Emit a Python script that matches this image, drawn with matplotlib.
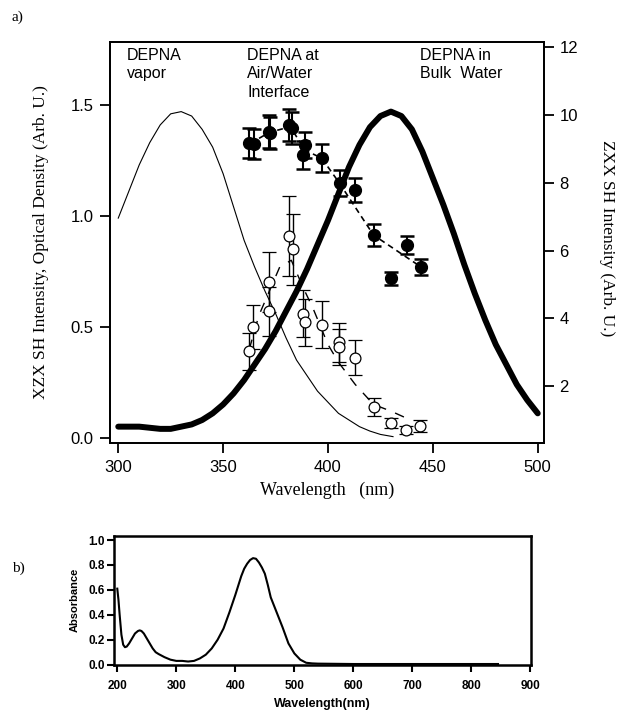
import matplotlib

matplotlib.use("Agg")
import matplotlib.pyplot as plt

SANS = ["Liberation Sans", "DejaVu Sans"]
SERIF = ["Liberation Serif", "DejaVu Serif"]

# --- panel a: optical density curves (left axis) ---
vapor_nm = [300, 305, 310, 315, 320, 325, 330, 335, 340, 345, 350, 355, 360, 365, 370,
            375, 380, 385, 390, 395, 400, 405, 410, 415, 420, 425, 431]
vapor_od = [0.99, 1.11, 1.23, 1.33, 1.41, 1.46, 1.47, 1.45, 1.39, 1.31, 1.19, 1.04, 0.89,
            0.77, 0.66, 0.56, 0.45, 0.35, 0.28, 0.21, 0.16, 0.11, 0.08, 0.05, 0.03, 0.015,
            0.005]

bulk_nm = [300, 305, 310, 315, 320, 325, 330, 335, 340, 345, 350, 355, 360, 365, 370,
           375, 380, 385, 390, 395, 400, 405, 410, 415, 420, 425, 430, 435, 440, 445,
           450, 455, 460, 465, 470, 475, 480, 485, 490, 495, 500]
bulk_od = [0.05, 0.05, 0.05, 0.045, 0.04, 0.04, 0.05, 0.06, 0.08, 0.11, 0.15, 0.20, 0.26,
           0.33, 0.40, 0.48, 0.57, 0.66, 0.76, 0.87, 0.98, 1.10, 1.22, 1.32, 1.40, 1.45,
           1.47, 1.45, 1.39, 1.29, 1.17, 1.05, 0.92, 0.78, 0.65, 0.53, 0.42, 0.33, 0.24,
           0.17, 0.11]

# --- XZX SH (open circles, left axis) ---
xzx_nm = [362.5, 364.3, 371.7, 371.7, 381.2, 383.1, 387.9, 388.9, 397.1, 405.1, 405.1,
          412.7, 421.7, 430.0, 437.1, 444.0]
xzx_val = [0.39, 0.50, 0.70, 0.57, 0.91, 0.85, 0.56, 0.52, 0.51, 0.43, 0.41,
           0.36, 0.14, 0.066, 0.036, 0.051]
xzx_err = [0.083, 0.098, 0.135, 0.11, 0.18, 0.16, 0.105, 0.105, 0.105, 0.089, 0.08,
           0.079, 0.04, 0.023, 0.018, 0.027]
xzx_fit_nm = [362.5, 367, 372, 377, 382.5, 388, 393, 400, 405, 413, 421.7, 430, 437]
xzx_fit_val = [0.40, 0.55, 0.66, 0.77, 0.80, 0.68, 0.58, 0.42, 0.34, 0.24, 0.15, 0.12, 0.09]

# --- ZXX SH (filled circles, right axis) ---
zxx_nm = [362.5, 364.5, 371.7, 372.2, 381.2, 382.9, 389.2, 388.1, 397.1, 405.5, 413.0,
          421.7, 430.0, 437.6, 444.3]
zxx_val = [9.19, 9.16, 9.51, 9.47, 9.71, 9.61, 9.12, 8.82, 8.73, 7.99, 7.79,
           6.46, 5.18, 6.17, 5.52]
zxx_err = [0.44, 0.44, 0.49, 0.47, 0.47, 0.47, 0.38, 0.41, 0.42, 0.38, 0.35,
           0.32, 0.20, 0.27, 0.24]
zxx_fit_nm = [363, 372, 382, 389, 397, 405.5, 421.7, 444.3]
zxx_fit_val = [9.17, 9.49, 9.66, 8.97, 8.73, 7.99, 6.46, 5.52]

# --- panel b: absorbance spectrum ---
abs_nm = [200, 202, 204, 207, 210, 213, 216, 220, 225, 230, 235, 238, 241, 245, 250, 255,
          260, 265, 270, 280, 290, 300, 310, 320, 330, 340, 350, 360, 370, 380, 390, 400,
          410, 415, 420, 425, 430, 435, 440, 445, 450, 455, 460, 470, 480, 490, 500, 510,
          520, 530, 540, 600, 700, 800, 845]
abs_val = [0.61, 0.52, 0.40, 0.24, 0.16, 0.14, 0.145, 0.17, 0.21, 0.25, 0.27, 0.275, 0.27,
           0.25, 0.21, 0.17, 0.13, 0.10, 0.085, 0.06, 0.04, 0.03, 0.03, 0.025, 0.03, 0.05,
           0.08, 0.13, 0.20, 0.29, 0.42, 0.56, 0.71, 0.77, 0.81, 0.84, 0.855, 0.85, 0.82,
           0.78, 0.73, 0.64, 0.54, 0.42, 0.30, 0.17, 0.09, 0.04, 0.015, 0.01, 0.008,
           0.005, 0.005, 0.005, 0.005]

fig = plt.figure(figsize=(6.18, 7.12), dpi=100)

# ---------------- panel a ----------------
ax = fig.add_axes([0.1788, 0.3774, 0.7015, 0.5640])
ax2 = ax.twinx()

ax.plot(vapor_nm, vapor_od, color="black", lw=0.8)
ax.plot(bulk_nm, bulk_od, color="black", lw=4.3, solid_capstyle="round",
        solid_joinstyle="round")

ax.plot(xzx_fit_nm, xzx_fit_val, color="black", lw=1.0, dashes=(7, 7))
ax.errorbar(xzx_nm, xzx_val, yerr=xzx_err, fmt="o", mfc="white", mec="black", mew=0.9,
            ms=7.8, ecolor="black", elinewidth=1.0, capsize=5, capthick=1.5)

ax2.plot(zxx_fit_nm, zxx_fit_val, color="black", lw=1.2, dashes=(3.5, 2.5))
ax2.errorbar(zxx_nm, zxx_val, yerr=zxx_err, fmt="o", mfc="black", mec="black",
             ms=8.5, ecolor="black", elinewidth=1.5, capsize=5, capthick=1.8)

ax.set_xlim(296.3, 503)
ax.set_ylim(-0.025, 1.785)
ax2.set_ylim(0.31, 12.17)
ax.set_xticks([300, 350, 400, 450, 500])
ax.set_yticks([0.0, 0.5, 1.0, 1.5])
ax2.set_yticks([2, 4, 6, 8, 10, 12])

for a in (ax, ax2):
    for s in a.spines.values():
        s.set_linewidth(1.3)
ax.tick_params(direction="out", length=7, width=1.3, labelsize=12, pad=5)
ax2.tick_params(direction="out", length=7, width=1.3, labelsize=12, pad=4)
for lab in ax.get_xticklabels() + ax.get_yticklabels() + ax2.get_yticklabels():
    lab.set_family(SANS)

ax.text(0.038, 0.985, "DEPNA\nvapor", transform=ax.transAxes, va="top", ha="left",
        fontsize=11.5, family=SANS, linespacing=1.3)
ax.text(0.315, 0.985, "DEPNA at\nAir/Water\nInterface", transform=ax.transAxes,
        va="top", ha="left", fontsize=11.5, family=SANS, linespacing=1.3)
ax.text(0.715, 0.985, "DEPNA in\nBulk  Water", transform=ax.transAxes, va="top",
        ha="left", fontsize=11.5, family=SANS, linespacing=1.3)

fig.text(41 / 618, 1 - 242 / 712, "XZX SH Intensity, Optical Density (Arb. U.)",
         rotation=90, ha="center", va="center", fontsize=12.5, family=SERIF)
fig.text(607 / 618, 1 - 238 / 712, "ZXX SH Intensity (Arb. U.)",
         rotation=270, ha="center", va="center", fontsize=12.5, family=SERIF)
fig.text(327 / 618, 1 - 490 / 712, "Wavelength   (nm)", ha="center", va="center",
         fontsize=13, family=SERIF)
fig.text(12 / 618, 1 - 17 / 712, "a)", ha="left", va="center", fontsize=11, family=SERIF)

# ---------------- panel b ----------------
bx = fig.add_axes([0.1850, 0.0660, 0.6743, 0.1816])
bx.plot(abs_nm, abs_val, color="black", lw=1.5)
bx.set_xlim(195, 901)
bx.set_ylim(-0.003, 1.035)
bx.set_xticks([200, 300, 400, 500, 600, 700, 800, 900])
bx.set_yticks([0.0, 0.2, 0.4, 0.6, 0.8, 1.0])
bx.set_yticklabels(["0.0", "0.2", "0.4", "0.6", "0.8", "1.0"])
for s in bx.spines.values():
    s.set_linewidth(1.8)
bx.tick_params(axis="x", direction="out", length=5, width=1.5, labelsize=8.5, pad=6)
bx.tick_params(axis="y", direction="out", length=5, width=1.5, labelsize=8.5, pad=2)
for lab in bx.get_xticklabels() + bx.get_yticklabels():
    lab.set_family(SANS)
    lab.set_fontweight("bold")
bx.set_ylabel("Absorbance", fontsize=8, family=SANS, fontweight="bold", labelpad=6)
bx.set_xlabel("Wavelength(nm)", fontsize=9, family=SANS, fontweight="bold", labelpad=4)
fig.text(12 / 618, 1 - 568 / 712, "b)", ha="left", va="center", fontsize=11, family=SERIF)

fig.savefig("out.png", dpi=100)
